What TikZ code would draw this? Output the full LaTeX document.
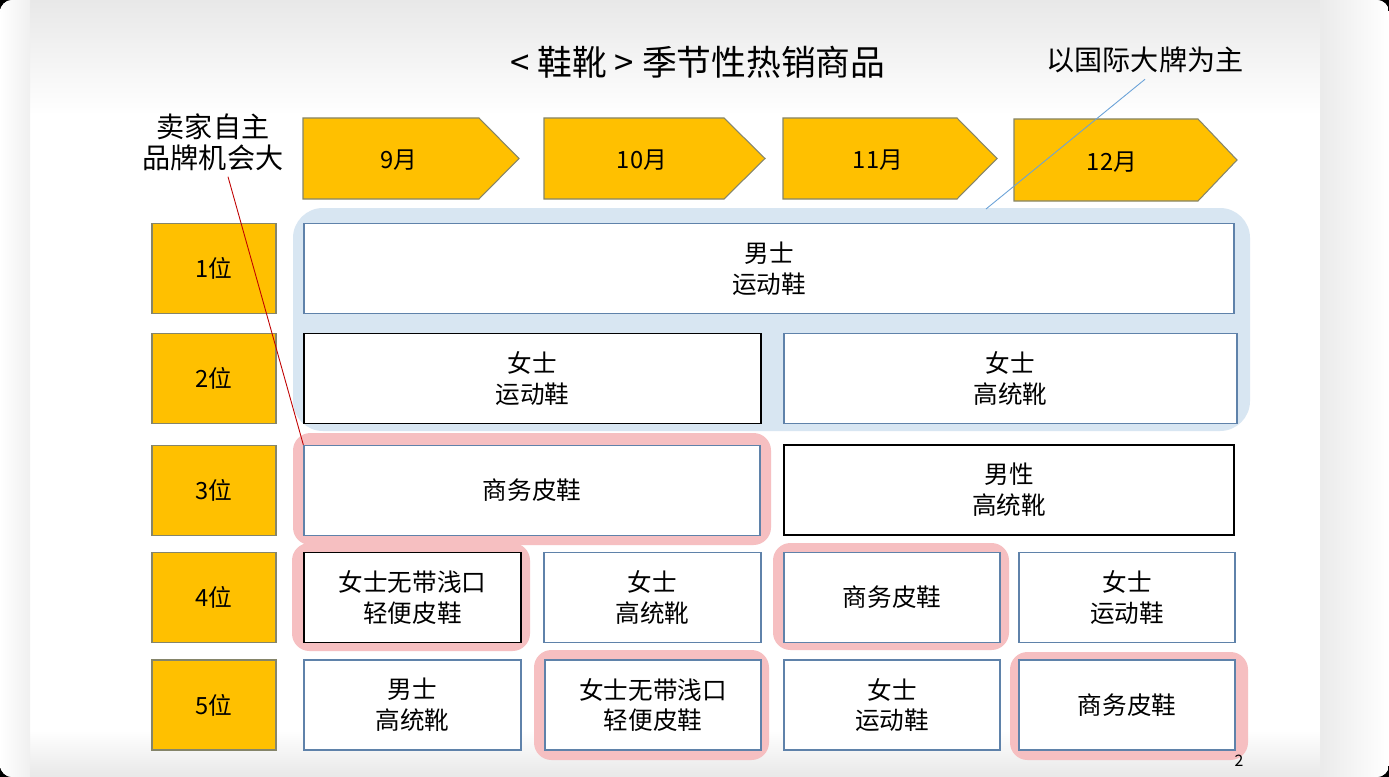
\documentclass[tikz,border=0pt]{standalone}
\usepackage{fontspec}
\setmainfont{Noto Sans CJK SC}
\usepackage{xcolor}
\usepackage{tikz}

\definecolor{gold}{HTML}{FFC000}
\definecolor{goldline}{HTML}{85856A}
\definecolor{cellline}{HTML}{5F82AA}
\definecolor{paleblue}{HTML}{D8E6F2}
\definecolor{palepink}{HTML}{F6BFC1}
\definecolor{callred}{HTML}{C00000}
\definecolor{callblue}{HTML}{6AA2D8}

\begin{document}
\begin{tikzpicture}[x=0.02cm,y=-0.02cm,
    rank/.style={draw=goldline, fill=gold, line width=0.6pt, minimum width=2.48cm, minimum height=1.8cm, inner sep=0pt, font=\fontsize{13.5}{16}\selectfont},
    cell/.style={draw=cellline, fill=white, line width=0.8pt, minimum height=1.8cm, inner sep=0pt, align=center, font=\fontsize{14}{17.5}\selectfont},
    cellk/.style={cell, draw=black},
    month/.style={draw=goldline, fill=gold, line width=0.6pt},
    mlabel/.style={font=\fontsize{13.5}{16}\selectfont},
    ring/.style={fill=palepink, rounded corners=0.35cm},
    note/.style={align=center, font=\fontsize{16}{17.6}\selectfont}]
    \useasboundingbox (0,0) rectangle (1389,777);

    % slide (y runs downwards, so left and right of a shading swap)
    \fill[black] (0,0) rectangle (1389,777);
    \begin{scope}
      \clip[rounded corners=0.25cm] (0,0) rectangle (1389,777);
      \fill[white] (0,0) rectangle (1389,777);
      \shade[top color=black!9, bottom color=white] (0,0) rectangle (1389,115);
      \shade[top color=white, bottom color=black!9] (0,730) rectangle (1389,777);
      \shade[left color=white, right color=black!6] (0,0) rectangle (30,777);
      \shade[left color=black!8, right color=white] (1320,0) rectangle (1389,777);
    \end{scope}

    % title and notes
    \node [font=\fontsize{19.8}{22}\selectfont] (title) at (698,62) {< 鞋靴 > 季节性热销商品};
    \node [note] (brand) at (213,142) {卖家自主\\品牌机会大};
    \node [note] (intl) at (1145,60) {以国际大牌为主};

    % months
    \draw [month] (303,118) -- (479,118) -- (519,158.5) -- (479,199) -- (303,199) -- cycle;
    \draw [month] (544,118) -- (724,118) -- (765,158.5) -- (724,199) -- (544,199) -- cycle;
    \draw [month] (783,118) -- (957,118) -- (997,158.5) -- (957,199) -- (783,199) -- cycle;
    \draw [month] (1014,119) -- (1198,119) -- (1237,160) -- (1198,201) -- (1014,201) -- cycle;
    \node [mlabel] (m9) at (399,160) {9月};
    \node [mlabel] (m10) at (642,160) {10月};
    \node [mlabel] (m11) at (878,160) {11月};
    \node [mlabel] (m12) at (1112,162) {12月};

    % highlights
    \fill [paleblue, rounded corners=0.6cm] (293,208) rectangle (1250,431);
    \fill [ring] (293,433) rectangle (771,545);
    \fill [ring] (292,543) rectangle (530,651);
    \fill [ring] (773,543) rectangle (1009,650);
    \fill [ring] (534,650) rectangle (769,760);
    \fill [ring] (1010,652) rectangle (1248,760);

    % ranks
    \node [rank] (r1) at (214,268.5) {1位};
    \node [rank] (r2) at (214,378.5) {2位};
    \node [rank] (r3) at (214,490.5) {3位};
    \node [rank] (r4) at (214,597.5) {4位};
    \node [rank] (r5) at (214,705) {5位};

    % cells
    \node [cell, minimum width=18.6cm] (a1) at (769,268.5) {男士\\运动鞋};
    \node [cellk, minimum width=9.14cm] (a2) at (532.5,378.5) {女士\\运动鞋};
    \node [cell, minimum width=9.06cm] (b2) at (1010.5,378.5) {女士\\高统靴};
    \node [cell, minimum width=9.12cm] (a3) at (532,490.5) {商务皮鞋};
    \node [cellk, minimum width=9.0cm] (b3) at (1009,490) {男性\\高统靴};
    \node [cellk, minimum width=4.34cm] (a4) at (412.5,597.5) {女士无带浅口\\轻便皮鞋};
    \node [cell, minimum width=4.34cm] (b4) at (652.5,597.5) {女士\\高统靴};
    \node [cell, minimum width=4.32cm] (c4) at (892,597.5) {商务皮鞋};
    \node [cell, minimum width=4.32cm] (d4) at (1127,597.5) {女士\\运动鞋};
    \node [cell, minimum width=4.34cm] (a5) at (412.5,705) {男士\\高统靴};
    \node [cell, minimum width=4.32cm] (b5) at (653,705) {女士无带浅口\\轻便皮鞋};
    \node [cell, minimum width=4.32cm] (c5) at (892,705) {女士\\运动鞋};
    \node [cell, minimum width=4.32cm] (d5) at (1127,705) {商务皮鞋};

    % callouts
    \coordinate (bluetop) at (986,209);
    \draw [callred, line width=0.5pt] ([xshift=0.3cm]brand.south) -- (a3.north west);
    \draw [callblue, line width=0.5pt] (intl.south) -- (bluetop);

    \node [font=\fontsize{9}{10}\selectfont] (page) at (1239,761) {2};
\end{tikzpicture}
\end{document}
